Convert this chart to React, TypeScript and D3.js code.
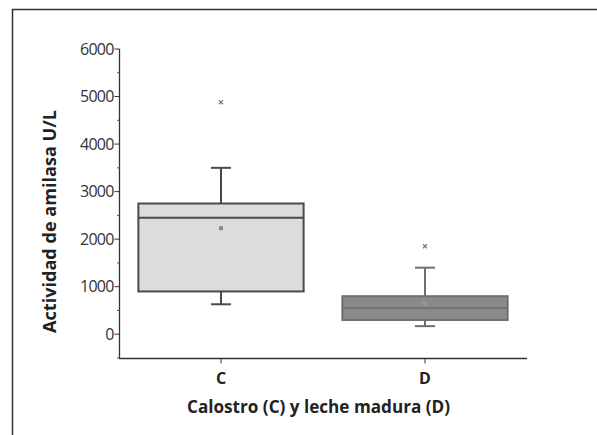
import React, { useEffect, useRef } from 'react';
import * as d3 from 'd3';

// values (U/L)
const groups = ['C', 'D'];
const q1 = [900, 300];
const median = [2450, 550];
const q3 = [2750, 800];
const whiskerLow = [630, 170];
const whiskerHigh = [3500, 1400];
const means = [2230, 650];
const outliers = [4880, 1850];
const yTicks = [0, 1000, 2000, 3000, 4000, 5000, 6000];

const fills = ['#dcdcdc', '#8a8a8a'];
const strokes = ['#4a4a4a', '#6f6f6f'];

const App = () => {
  const ref = useRef<SVGSVGElement>(null);

  useEffect(() => {
    const svg = d3.select(ref.current);
    svg.selectAll('*').remove();

    const font = "'Open Sans', 'DejaVu Sans', sans-serif";

    // outer frame (top and left edges)
    svg.append('line').attr('x1', 12).attr('x2', 597).attr('y1', 9.5).attr('y2', 9.5)
      .attr('stroke', '#333').attr('stroke-width', 1.5);
    svg.append('line').attr('x1', 12.5).attr('x2', 12.5).attr('y1', 9).attr('y2', 435)
      .attr('stroke', '#333').attr('stroke-width', 1.5);

    const y = d3.scaleLinear().domain([-500, 6000]).range([358, 49]);
    const x = d3.scaleBand().domain(groups).range([119, 527]).paddingInner(0).paddingOuter(0);

    // y axis
    const yAxis = svg.append('g').attr('transform', 'translate(119.5,0)');
    yAxis.append('line').attr('y1', y(-500)).attr('y2', y(6000)).attr('stroke', '#333').attr('stroke-width', 1.3);
    yAxis.selectAll('.major').data(yTicks).join('line')
      .attr('x1', -5).attr('x2', 0)
      .attr('y1', (d) => y(d)).attr('y2', (d) => y(d))
      .attr('stroke', '#333');
    yAxis.selectAll('.minor').data(d3.range(-500, 6000, 1000)).join('line')
      .attr('x1', -2.5).attr('x2', 0)
      .attr('y1', (d) => y(d)).attr('y2', (d) => y(d))
      .attr('stroke', '#555');
    yAxis.selectAll('text').data(yTicks).join('text')
      .attr('x', -6).attr('y', (d) => y(d)).attr('dy', '0.36em')
      .attr('text-anchor', 'end')
      .attr('font-family', font).attr('font-size', 16).attr('letter-spacing', -0.8)
      .attr('fill', '#333')
      .text((d) => d);

    // x axis
    const xAxis = svg.append('g').attr('transform', `translate(0,${y(-500) + 0.5})`);
    xAxis.append('line').attr('x1', 119).attr('x2', 527).attr('stroke', '#333').attr('stroke-width', 1.3);
    xAxis.selectAll('line.tick').data(groups).join('line')
      .attr('class', 'tick')
      .attr('x1', (d) => x(d)! + x.bandwidth() / 2).attr('x2', (d) => x(d)! + x.bandwidth() / 2)
      .attr('y1', 0).attr('y2', 5).attr('stroke', '#333');
    xAxis.selectAll('text').data(groups).join('text')
      .attr('x', (d) => x(d)! + x.bandwidth() / 2).attr('y', 25)
      .attr('text-anchor', 'middle')
      .attr('font-family', font).attr('font-size', 16).attr('font-weight', 'bold')
      .attr('fill', '#222')
      .text((d) => d);

    // titles
    svg.append('text')
      .attr('x', 318.5).attr('y', 413)
      .attr('text-anchor', 'middle')
      .attr('font-family', font).attr('font-size', 17.5).attr('font-weight', 'bold')
      .attr('fill', '#222')
      .attr('textLength', 263).attr('lengthAdjust', 'spacingAndGlyphs')
      .text('Calostro (C) y leche madura (D)');
    svg.append('text')
      .attr('transform', 'translate(56,221.5) rotate(-90)')
      .attr('text-anchor', 'middle')
      .attr('font-family', font).attr('font-size', 17.5).attr('font-weight', 'bold')
      .attr('fill', '#222')
      .attr('textLength', 223).attr('lengthAdjust', 'spacingAndGlyphs')
      .text('Actividad de amilasa U/L');

    // boxes
    const boxW = x.bandwidth() * 0.81;
    const capW = 20;
    groups.forEach((g, i) => {
      const cx = x(g)! + x.bandwidth() / 2;
      const gg = svg.append('g');
      // whiskers
      gg.append('line').attr('x1', cx).attr('x2', cx)
        .attr('y1', y(whiskerHigh[i])).attr('y2', y(q3[i]))
        .attr('stroke', strokes[i]).attr('stroke-width', 2);
      gg.append('line').attr('x1', cx).attr('x2', cx)
        .attr('y1', y(q1[i])).attr('y2', y(whiskerLow[i]))
        .attr('stroke', strokes[i]).attr('stroke-width', 2);
      [whiskerHigh[i], whiskerLow[i]].forEach((v) => {
        gg.append('line').attr('x1', cx - capW / 2).attr('x2', cx + capW / 2)
          .attr('y1', y(v)).attr('y2', y(v))
          .attr('stroke', strokes[i]).attr('stroke-width', 2);
      });
      gg.append('rect')
        .attr('x', cx - boxW / 2).attr('width', boxW)
        .attr('y', y(q3[i])).attr('height', y(q1[i]) - y(q3[i]))
        .attr('fill', fills[i]).attr('stroke', strokes[i]).attr('stroke-width', 2);
      gg.append('line').attr('x1', cx - boxW / 2).attr('x2', cx + boxW / 2)
        .attr('y1', y(median[i])).attr('y2', y(median[i]))
        .attr('stroke', strokes[i]).attr('stroke-width', 1.8);
      // mean
      gg.append('rect').attr('x', cx - 2).attr('y', y(means[i]) - 2)
        .attr('width', 4).attr('height', 4)
        .attr('fill', i === 0 ? '#888' : '#999');
      // outlier
      const oy = y(outliers[i]);
      gg.append('path')
        .attr('d', `M${cx - 2},${oy - 2}L${cx + 2},${oy + 2}M${cx + 2},${oy - 2}L${cx - 2},${oy + 2}`)
        .attr('stroke', '#777').attr('stroke-width', 1.2);
    });
  }, []);

  return (
    <svg ref={ref} width={597} height={435} style={{ position: 'absolute', left: 0, top: 0, background: '#fff' }} />
  );
};

export default App;
